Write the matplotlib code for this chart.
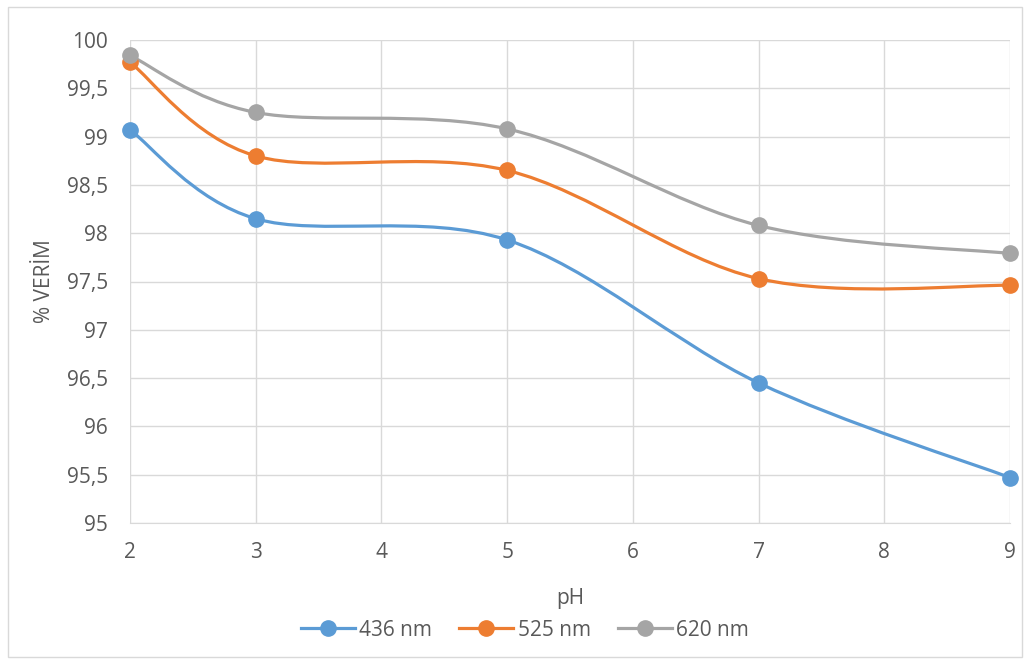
import matplotlib
matplotlib.use("Agg")
import matplotlib.pyplot as plt
from matplotlib.path import Path
from matplotlib.patches import PathPatch, Rectangle
from matplotlib.lines import Line2D
import numpy as np

plt.rcParams['font.family'] = ['Open Sans', 'DejaVu Sans']

ph = [2, 3, 5, 7, 9]
series_names = ['436 nm', '525 nm', '620 nm']
v436 = [99.07, 98.15, 97.93, 96.45, 95.47]
v525 = [99.77, 98.80, 98.65, 97.53, 97.46]
v620 = [99.84, 99.25, 99.08, 98.08, 97.79]
colors = ['#5B9BD5', '#ED7D31', '#A5A5A5']
yticks = [95, 95.5, 96, 96.5, 97, 97.5, 98, 98.5, 99, 99.5, 100]
ytick_labels = ['95', '95,5', '96', '96,5', '97', '97,5', '98', '98,5', '99', '99,5', '100']
xticks = [2, 3, 4, 5, 6, 7, 8, 9]

fig = plt.figure(figsize=(10.25, 6.64), dpi=100)
fig.patches.append(Rectangle((8/1025, 1-657/664), 1014/1025, 650/664,
                             transform=fig.transFigure, fill=False,
                             edgecolor='#D9D9D9', linewidth=1))
ax = fig.add_axes([130/1025, 1-523/664, 880/1025, 483/664])


def smooth_path(xs, ys):
    pts = np.column_stack([xs, ys]).astype(float)
    n = len(pts)
    verts = [pts[0]]
    codes = [Path.MOVETO]
    for i in range(n - 1):
        p0 = pts[i - 1] if i > 0 else pts[i]
        p1 = pts[i]
        p2 = pts[i + 1]
        p3 = pts[i + 2] if i + 2 < n else pts[i + 1]
        c1 = p1 + (p2 - p0) / 6.0
        c2 = p2 - (p3 - p1) / 6.0
        verts += [c1, c2, p2]
        codes += [Path.CURVE4] * 3
    return Path(verts, codes)


LW = 2.3
MS = 11
for vals, c in zip([v436, v525, v620], colors):
    patch = PathPatch(smooth_path(ph, vals), facecolor='none', edgecolor=c,
                      linewidth=LW, capstyle='round', joinstyle='round', zorder=3)
    ax.add_patch(patch)
    ax.plot(ph, vals, linestyle='none', marker='o', markersize=MS,
            color=c, zorder=4, clip_on=False)

ax.set_xlim(2, 9)
ax.set_ylim(95, 100)
ax.set_xticks(xticks)
ax.set_xticklabels([str(x) for x in xticks])
ax.set_yticks(yticks)
ax.set_yticklabels(ytick_labels)
ax.grid(True, color='#D9D9D9', linewidth=1)
ax.set_axisbelow(True)
for s in ax.spines.values():
    s.set_visible(False)
ax.spines['bottom'].set_visible(True)
ax.spines['bottom'].set_color('#D9D9D9')
ax.tick_params(length=0, labelsize=15, colors='#595959')
ax.tick_params(axis='y', pad=16)
ax.tick_params(axis='x', pad=14)
ax.set_xlabel('pH', fontsize=15, color='#595959', labelpad=18)
ax.set_ylabel('% VERİM', fontsize=15, color='#595959', labelpad=8)

handles = [Line2D([0], [0], color=c, linewidth=LW, marker='o', markersize=MS)
           for c in colors]
fig.legend(handles, series_names, loc='center', bbox_to_anchor=(0.512, 1-630/664),
           ncol=3, frameon=False, fontsize=15, labelcolor='#595959',
           handlelength=2.6, handletextpad=0.2, columnspacing=1.3)

fig.savefig('out.png', dpi=100)
